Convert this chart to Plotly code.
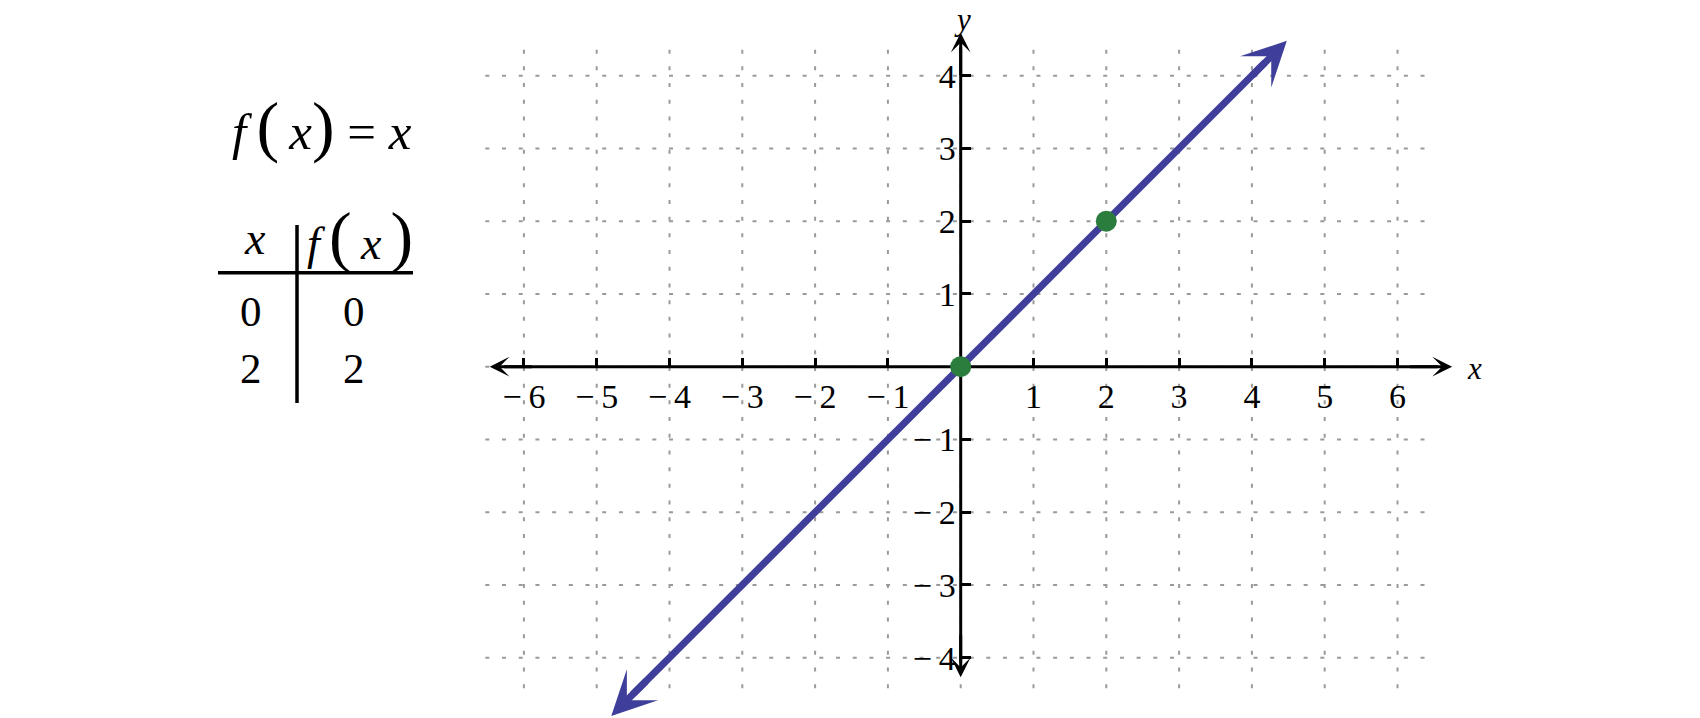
import numpy as np
import plotly.graph_objects as go

W, H = 1700, 718

# ---------------- data ----------------
x_ticks = [-6, -5, -4, -3, -2, -1, 1, 2, 3, 4, 5, 6]
y_ticks = [-4, -3, -2, -1, 1, 2, 3, 4]
grid_x = list(range(-6, 7))
grid_y = list(range(-4, 5))
grid_x_extent = [-6.53, 6.53]
grid_y_extent = [-4.42, 4.37]
xaxis_extent = [-6.47, 6.75]
yaxis_extent = [-4.27, 4.59]
line_x = [-4.8, 4.48]
line_y = [-4.8, 4.48]          # f(x) = x
pts_x = [0, 2]
pts_y = [0, 2]
table_x = ["0", "2"]
table_fx = ["0", "2"]

# ---------------- styles ----------------
BLUE = "#3f3f9b"
GREEN = "#2a7d3c"
GRID = "#9a9a9a"
FONT = "Liberation Serif"

X0, Y0, UX, UY = 960.7, 366.7, 72.8, 72.75
xr = [-X0 / UX, (W - X0) / UX]
yr = [-(H - Y0) / UY, Y0 / UY]


def paper(px, py):
    return px / W, 1 - py / H


def lab(v):
    return ("\u2212\u2009" + str(abs(v))) if v < 0 else str(v)


fig = go.Figure()

# blue line shaft (shortened so the arrowheads sit cleanly at the tips)
sh = 0.3
fig.add_trace(go.Scatter(
    x=[line_x[0] + sh, line_x[1] - sh], y=[line_y[0] + sh, line_y[1] - sh],
    mode="lines", line=dict(color=BLUE, width=7), hoverinfo="skip"))

# points of the table
fig.add_trace(go.Scatter(
    x=pts_x, y=pts_y, mode="markers",
    marker=dict(color=GREEN, size=21, line=dict(width=0)), hoverinfo="skip"))

shapes = []
# dotted grid
for gx in grid_x:
    shapes.append(dict(type="line", xref="x", yref="y", x0=gx, x1=gx,
                       y0=grid_y_extent[0], y1=grid_y_extent[1], layer="below",
                       line=dict(color=GRID, width=2, dash="4px,12.7px")))
for gy in grid_y:
    shapes.append(dict(type="line", xref="x", yref="y", y0=gy, y1=gy,
                       x0=grid_x_extent[0], x1=grid_x_extent[1], layer="below",
                       line=dict(color=GRID, width=2, dash="4px,12.7px")))
# axis lines
ab = 0.2
shapes.append(dict(type="line", xref="x", yref="y", x0=xaxis_extent[0] + ab,
                   x1=xaxis_extent[1] - ab, y0=0, y1=0, layer="below",
                   line=dict(color="black", width=3)))
shapes.append(dict(type="line", xref="x", yref="y", y0=yaxis_extent[0] + ab,
                   y1=yaxis_extent[1] - ab, x0=0, x1=0, layer="below",
                   line=dict(color="black", width=3)))

# table rules (paper coordinates)
hx0, hy = paper(218, 272.7)
hx1, _ = paper(413, 272.7)
shapes.append(dict(type="line", xref="paper", yref="paper", x0=hx0, x1=hx1,
                   y0=hy, y1=hy, line=dict(color="black", width=3.5)))
vx, vy0 = paper(297, 225)
_, vy1 = paper(297, 403)
shapes.append(dict(type="line", xref="paper", yref="paper", x0=vx, x1=vx,
                   y0=vy0, y1=vy1, line=dict(color="black", width=3.5)))

annotations = []


def head(tip_x, tip_y, tail_x, tail_y, color, width, size):
    annotations.append(dict(
        x=tip_x, y=tip_y, ax=tail_x, ay=tail_y, xref="x", yref="y",
        axref="x", ayref="y", text="", showarrow=True, arrowhead=3,
        arrowsize=size, arrowwidth=width, arrowcolor=color, standoff=0))


# axis arrowheads
head(xaxis_extent[1], 0, xaxis_extent[1] - 0.6, 0, "black", 3, 1.1)
head(xaxis_extent[0], 0, xaxis_extent[0] + 0.6, 0, "black", 3, 1.1)
head(0, yaxis_extent[1], 0, yaxis_extent[1] - 0.6, "black", 3, 1.1)
head(0, yaxis_extent[0], 0, yaxis_extent[0] + 0.6, "black", 3, 1.1)
# line arrowheads
head(line_x[1], line_y[1], line_x[1] - 0.5, line_y[1] - 0.5, BLUE, 7, 1.05)
head(line_x[0], line_y[0], line_x[0] + 0.5, line_y[0] + 0.5, BLUE, 7, 1.05)


def text(px, py, t, size, yanchor="middle"):
    x, y = paper(px, py)
    annotations.append(dict(
        x=x, y=y, xref="paper", yref="paper", text=t, showarrow=False,
        xanchor="center", yanchor=yanchor,
        font=dict(family=FONT, size=size, color="black")))


# axis titles
text(1474, 368, "<i>x</i>", 31)
text(962, 0, "<i>y</i>", 31, yanchor="top")

# formula  f(x) = x   (large parentheses)
BIG = "<span style='font-size:68px'>%s</span>"
TH = "\u2009"
text(322, 126, "<i>f</i>" + TH + BIG % "(" + TH + "<i>x</i>" + BIG % ")"
     + " = <i>x</i>", 51)

# table header
text(255, 238, "<i>x</i>", 46)
text(360, 236, "<i>f</i>" + TH + BIG % "(" + TH + "<i>x</i>" + TH + BIG % ")",
     46)

# table rows
for i, (a, b) in enumerate(zip(table_x, table_fx)):
    ry = 311 + i * 57.5
    text(251, ry, a, 43)
    text(354, ry, b, 43)

axis_common = dict(showgrid=False, zeroline=False, showline=False,
                   ticks="inside", ticklen=9, tickwidth=3, tickcolor="black",
                   tickfont=dict(family=FONT, size=34, color="black"),
                   fixedrange=True, anchor="free")

fig.update_layout(
    width=W, height=H, margin=dict(l=0, r=0, t=0, b=0, autoexpand=False),
    paper_bgcolor="white", plot_bgcolor="white", showlegend=False,
    font=dict(family=FONT),
    xaxis=dict(range=xr, tickvals=x_ticks, ticktext=[lab(v) for v in x_ticks],
               position=1 - Y0 / H, ticklabelstandoff=6, **axis_common),
    yaxis=dict(range=yr, tickvals=y_ticks, ticktext=[lab(v) for v in y_ticks],
               position=X0 / W, ticklabelstandoff=5, **axis_common),
    shapes=shapes, annotations=annotations,
)

fig.write_html("out.html", config={"displayModeBar": False},
               post_script="document.body.style.margin='0';"
                           "document.body.style.padding='0';")
